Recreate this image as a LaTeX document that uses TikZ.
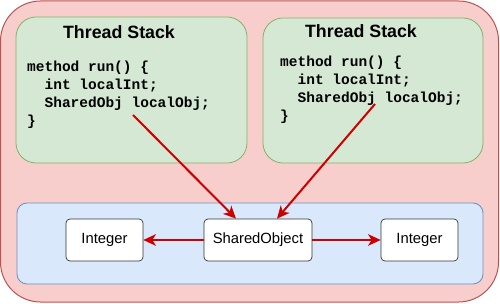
\documentclass[tikz,border=0pt]{standalone}
\usepackage{fontspec}
\setmainfont{Liberation Sans}
\setmonofont{Liberation Mono}
\usetikzlibrary{arrows.meta,calc}
\definecolor{redfill}{HTML}{F8CECC}
\definecolor{redline}{HTML}{B85450}
\definecolor{greenfill}{HTML}{D5E8D4}
\definecolor{greenline}{HTML}{82B366}
\definecolor{bluefill}{HTML}{DAE8FC}
\definecolor{blueline}{HTML}{6C8EBF}
\definecolor{arrowred}{HTML}{CC0000}
\begin{document}
\begin{tikzpicture}[x=1pt,y=-1pt,
 outerbox/.style={draw=redline,fill=redfill,rounded corners=40pt,line width=1pt,inner sep=0pt},
 stackbox/.style={draw=greenline,fill=greenfill,rounded corners=20pt,line width=0.8pt,inner sep=0pt},
 heapbox/.style={draw=blueline,fill=bluefill,rounded corners=10pt,line width=0.8pt,inner sep=0pt},
 objbox/.style={draw=black!80,fill=white,rounded corners=4pt,line width=0.7pt,minimum height=42pt,inner sep=0pt,font=\fontsize{14.8}{17}\selectfont},
 title/.style={font=\fontsize{17.8}{20}\selectfont\bfseries,anchor=base,inner sep=0pt},
 code/.style={font=\fontsize{14.5}{18}\selectfont\ttfamily\bfseries,align=left,anchor=base west,inner sep=0pt},
 ref/.style={draw=arrowred,line width=2pt,-{Stealth[length=12.5pt,width=11.5pt,inset=3.5pt]}}
]
\useasboundingbox (0,0) rectangle (500,304);
\node[outerbox,minimum width=498pt,minimum height=301pt] (outer) at (249.5,151.5) {};
\node[stackbox,minimum width=231pt,minimum height=146pt] (stack1) at (131.5,90) {};
\node[stackbox,minimum width=220pt,minimum height=145pt] (stack2) at (373,90.5) {};
\node[heapbox,minimum width=466pt,minimum height=81pt] (heap) at (250,243.5) {};
\node[title] (t1) at (119,39) {Thread Stack};
\node[title] (t2) at (361,38) {Thread Stack};
\node[code] (c1) at (27,126) {method run() \{\\\ \ int localInt;\\\ \ SharedObj localObj;\\\}};
\node[code] (c2) at (280,121) {method run() \{\\\ \ int localInt;\\\ \ SharedObj localObj;\\\}};
\node[objbox,minimum width=77pt] (i1) at (104.5,240) {Integer};
\node[objbox,minimum width=108pt] (so) at (258,240) {SharedObject};
\node[objbox,minimum width=77pt] (i2) at (419.5,240) {Integer};
\coordinate (s1) at (133,115);
\coordinate (s2) at (375,104);
\draw[ref] (s1) -- ($(so.north)+(-22,0)$);
\draw[ref] (s2) -- ($(so.north)+(19,0)$);
\draw[ref] (so.west) -- (i1.east);
\draw[ref,line width=2.6pt] (so.east) -- (i2.west);
\end{tikzpicture}
\end{document}
